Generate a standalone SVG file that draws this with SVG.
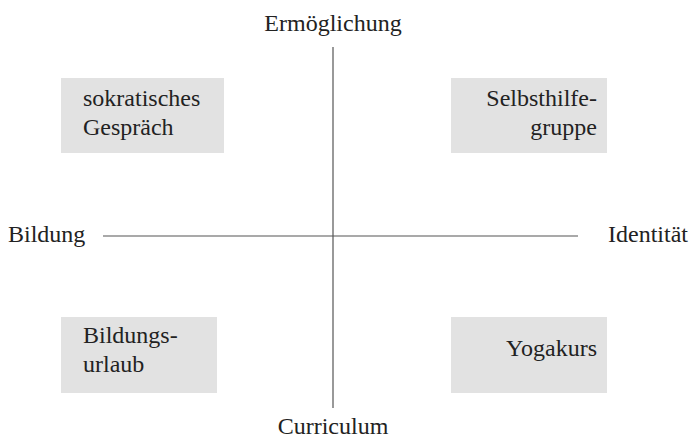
<svg xmlns="http://www.w3.org/2000/svg" width="690" height="443" viewBox="0 0 690 443">
<style>
text{font-size:24px;fill:#222}
.box{fill:#e2e2e2}
.ax{stroke:#555;stroke-width:1.2;fill:none}
.r{text-anchor:end}
.m{text-anchor:middle}
</style>
<rect width="690" height="443" fill="#fff"/>
<g id="connectors">
<line class="ax" x1="333" y1="47" x2="333" y2="408"/>
<line class="ax" x1="103" y1="236" x2="578" y2="236"/>
</g>
<g id="n-top"><text class="m" x="333" y="31" font-family="Liberation Serif">Ermöglichung</text></g>
<g id="n-bottom"><text class="m" x="333" y="434" font-family="Times New Roman">Curriculum</text></g>
<g id="n-left"><text x="8" y="242" font-family="serif">Bildung</text></g>
<g id="n-right"><text class="r" x="688" y="242" font-family="'Liberation Serif', serif">Identität</text></g>
<g id="n-sokratisch">
<rect class="box" x="61" y="78" width="163" height="75"/>
<text x="83" y="106" font-family="Times New Roman">sokratisches</text>
<text x="83" y="135" font-family="serif">Gespräch</text>
</g>
<g id="n-selbsthilfe">
<rect class="box" x="451" y="78" width="156" height="75"/>
<text class="r" x="597" y="106" font-family="'Liberation Serif', serif">Selbsthilfe-</text>
<text class="r" x="597" y="135" font-family="Liberation Serif">gruppe</text>
</g>
<g id="n-bildungsurlaub">
<rect class="box" x="61" y="317" width="156" height="76"/>
<text x="83" y="343" font-family="Tinos">Bildungs-</text>
<text x="83" y="372" font-family="Times New Roman">urlaub</text>
</g>
<g id="n-yoga">
<rect class="box" x="451" y="317" width="156" height="76"/>
<text class="r" x="597" y="356" font-family="Tinos">Yogakurs</text>
</g>
</svg>
